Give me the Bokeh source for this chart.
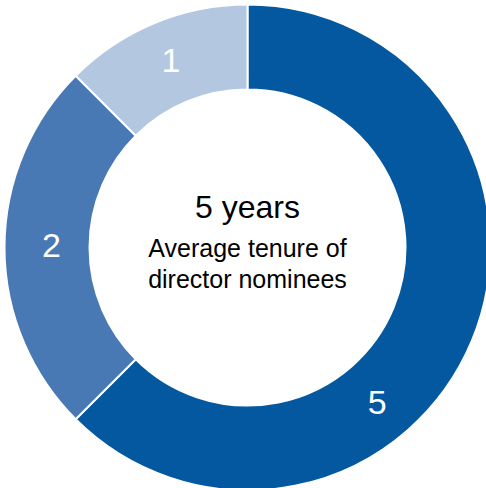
import math
from bokeh.plotting import figure
from bokeh.models import Range1d, ColumnDataSource
from bokeh.core.properties import value
from bokeh.embed import file_html
from bokeh.resources import INLINE

# data
categories = ["5", "2", "1"]
counts = [5, 2, 1]
colors = ["#03589F", "#4879B4", "#B3C7E1"]
label_angles_deg = [-50.5, 180.0, 112.5]
label_radii = [204, 196, 200]
center_title = "5 years"
center_lines = ["Average tenure of", "director nominees"]

W, H = 486, 488
p = figure(width=W, height=H, output_backend="svg", toolbar_location=None,
           x_range=Range1d(-247, 239), y_range=Range1d(-241, 247),
           min_border=0, outline_line_color=None, background_fill_color="white",
           border_fill_color="white")
p.axis.visible = False
p.grid.visible = False

total = sum(counts)
starts, ends = [], []
cum = 0
for c in counts:
    a0 = math.pi / 2 - cum / total * 2 * math.pi
    cum += c
    a1 = math.pi / 2 - cum / total * 2 * math.pi
    starts.append(a1)
    ends.append(a0)

src = ColumnDataSource(dict(start=starts, end=ends, color=colors, cat=categories))
p.annular_wedge(x=0, y=0, inner_radius=158, outer_radius=243, start_angle="start",
                end_angle="end", fill_color="color", line_color="white", line_width=2,
                source=src)

lx = [r * math.cos(math.radians(a)) for r, a in zip(label_radii, label_angles_deg)]
ly = [r * math.sin(math.radians(a)) + 2 for r, a in zip(label_radii, label_angles_deg)]
p.text(x=lx, y=ly, text=categories, text_color="white", text_font=value("Liberation Sans"),
       text_font_size="34px", text_align="center", text_baseline="middle")

p.text(x=[0], y=[41], text=[center_title], text_color="black", text_font=value("Liberation Sans"),
       text_font_size="32px", text_align="center", text_baseline="alphabetic")
p.text(x=[0, 0], y=[0, -31], text=center_lines, text_color="black",
       text_font=value("Liberation Sans"), text_font_size="25px", text_align="center",
       text_baseline="alphabetic")

open("out.html", "w").write(file_html(p, INLINE))
